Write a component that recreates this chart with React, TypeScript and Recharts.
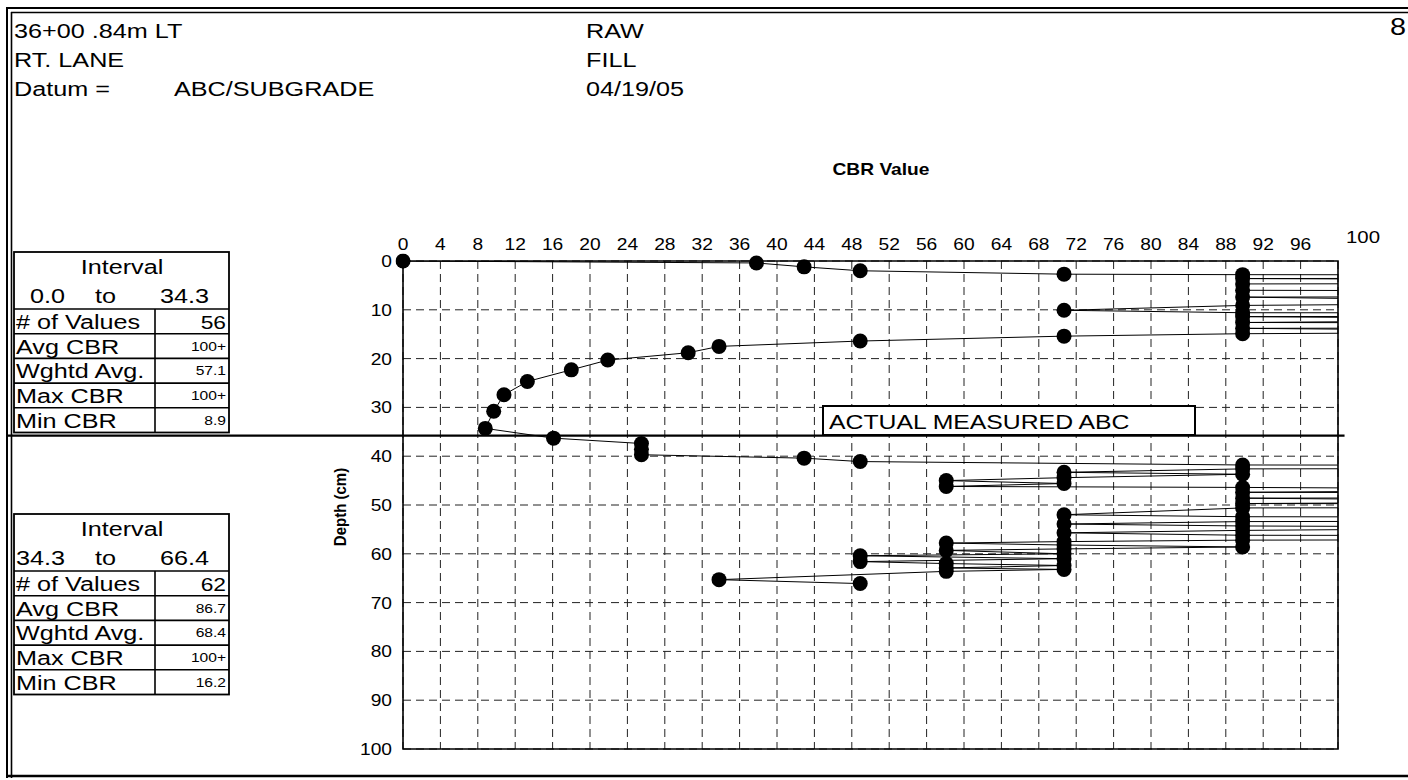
import React from "react";
import {
  ComposedChart,
  Line,
  XAxis,
  YAxis,
  CartesianGrid,
  ReferenceLine,
  ReferenceArea,
} from "recharts";

const FONT = "'Liberation Sans', Arial, Helvetica, sans-serif";
// the scan is a little wider than it is tall, so text is stretched sideways
const SX = 1.2;

// interval 0.0 - 34.3 (values over 100 run off the right edge)
const cbrTop = [
  0, 37.8, 42.9, 48.9, 70.7, 89.8, 292, 89.8, 134, 292, 89.8, 89.8, 292, 89.8,
  134, 89.8, 70.7, 89.8, 292, 89.8, 134, 89.8, 292, 89.8, 134, 89.8, 70.7,
  48.9, 33.8, 30.5, 21.9, 18.0, 13.3, 10.8, 9.7, 8.8,
];
const depthTop = [
  0, 0.4, 1.2, 2.0, 2.7, 2.8, 3.1, 3.6, 3.9, 4.2, 4.7, 6.0, 6.8, 7.4, 8.5, 9.1,
  10.1, 10.6, 10.8, 11.4, 12.0, 12.6, 13.2, 13.8, 14.5, 14.9, 15.4, 16.4, 17.5,
  18.8, 20.3, 22.3, 24.7, 27.4, 30.8, 34.3,
];

// interval 34.3 - 66.4
const cbrBottom = [
  16.1, 25.5, 25.5, 25.5, 42.9, 48.9, 89.8, 292, 89.8, 70.7, 89.8, 70.7, 58.1,
  70.7, 58.1, 89.8, 134, 89.8, 292, 89.8, 134, 89.8, 292, 89.8, 70.7, 89.8,
  292, 89.8, 70.7, 89.8, 134, 89.8, 70.7, 89.8, 292, 89.8, 70.7, 58.1, 70.7,
  89.8, 70.7, 58.1, 70.7, 48.9, 70.7, 48.9, 58.1, 70.7, 58.1, 70.7, 58.1, 33.8,
  48.9,
];
const depthBottom = [
  36.3, 37.4, 38.6, 39.7, 40.4, 41.1, 41.8, 42.1, 42.6, 43.3, 43.7, 44.4, 45.0,
  45.6, 46.2, 46.4, 46.8, 47.4, 48.0, 48.6, 49.3, 49.7, 50.1, 50.6, 52.0, 52.4,
  52.9, 53.4, 53.9, 54.3, 54.6, 55.2, 55.7, 56.2, 56.6, 57.2, 57.5, 57.8, 58.2,
  58.6, 59.0, 59.3, 60.0, 60.4, 61.0, 61.6, 62.0, 62.4, 62.9, 63.2, 63.6, 65.3,
  66.1,
];

const cbrTicks = [
  0, 4, 8, 12, 16, 20, 24, 28, 32, 36, 40, 44, 48, 52, 56, 60, 64, 68, 72, 76,
  80, 84, 88, 92, 96, 100,
];
const depthTicks = [0, 10, 20, 30, 40, 50, 60, 70, 80, 90, 100];
const abcDepth = 35.8;

const statLabels = ["# of Values", "Avg CBR", "Wghtd Avg.", "Max CBR", "Min CBR"];
const statsTop = ["56", "100+", "57.1", "100+", "8.9"];
const statsBottom = ["62", "86.7", "68.4", "100+", "16.2"];

const points = [
  ...cbrTop.map((c, i) => ({ cbr: c, depth: depthTop[i] })),
  ...cbrBottom.map((c, i) => ({ cbr: c, depth: depthBottom[i] })),
];

function T({ x, y, size = 21, bold = false, anchor = "start", sx = SX, children }: any) {
  return (
    <text
      transform={`translate(${x},${y}) scale(${sx},1)`}
      textAnchor={anchor}
      fontSize={size}
      fontWeight={bold ? 700 : 400}
      fontFamily={FONT}
      fill="#000"
    >
      {children}
    </text>
  );
}

const CbrTick = (props: any) => {
  const { x, y, payload } = props;
  const last = payload.value === 100;
  return (
    <text
      transform={`translate(${x + (last ? 25 : 0)},${y - (last ? 18 : 11)}) scale(${SX},1)`}
      textAnchor="middle"
      fontSize={last ? 17 : 16}
      fontFamily={FONT}
      fill="#000"
    >
      {payload.value}
    </text>
  );
};

const DepthTick = (props: any) => {
  const { x, y, payload } = props;
  return (
    <text
      transform={`translate(${x - 11},${y + 6}) scale(${SX},1)`}
      textAnchor="end"
      fontSize={16}
      fontFamily={FONT}
      fill="#000"
    >
      {payload.value}
    </text>
  );
};

function StatsTable({ top, from, to, fromX, values }: any) {
  const headBottom = top + 57;
  const rowH = 24.7;
  const bottom = headBottom + rowH * statLabels.length;
  return (
    <g>
      <rect x={14} y={top} width={215} height={bottom - top} fill="#fff" stroke="#000" strokeWidth={1.8} />
      {statLabels.map((_, i) => (
        <line key={i} x1={14} x2={229} y1={headBottom + rowH * i} y2={headBottom + rowH * i} stroke="#000" strokeWidth={1.6} />
      ))}
      <line x1={155} x2={155} y1={headBottom} y2={bottom} stroke="#000" strokeWidth={1.6} />
      <T x={122} y={top + 22} anchor="middle">Interval</T>
      <T x={fromX} y={top + 51}>{from}</T>
      <T x={95} y={top + 51}>to</T>
      <T x={160} y={top + 51}>{to}</T>
      {statLabels.map((s, i) => (
        <T key={s} x={16} y={headBottom + rowH * i + 20}>{s}</T>
      ))}
      {values.map((v: string, i: number) => (
        <T key={i} x={226} y={headBottom + rowH * i + (i === 0 ? 20 : 17)} size={i === 0 ? 19 : 13} anchor="end">
          {v}
        </T>
      ))}
    </g>
  );
}

export default function App() {
  return (
    <div style={{ position: "absolute", left: 0, top: 0, width: 1408, height: 780, background: "#fff", overflow: "hidden" }}>
      <div style={{ position: "absolute", left: 0, top: 0 }}>
        <ComposedChart width={1408} height={780} data={points} margin={{ top: 0, right: 70, bottom: 31, left: 0 }}>
          <CartesianGrid stroke="#222" strokeWidth={1} strokeDasharray="8 5" />
          <XAxis
            type="number"
            dataKey="cbr"
            orientation="top"
            domain={[0, 100]}
            ticks={cbrTicks}
            interval={0}
            allowDataOverflow
            height={261}
            axisLine={false}
            tickLine={false}
            tickSize={0}
            tickMargin={0}
            tick={CbrTick}
          />
          <YAxis
            type="number"
            dataKey="depth"
            domain={[0, 100]}
            ticks={depthTicks}
            interval={0}
            reversed
            allowDataOverflow
            width={403}
            axisLine={false}
            tickLine={false}
            tickSize={0}
            tickMargin={0}
            tick={DepthTick}
          />
          <ReferenceArea x1={0} x2={100} y1={0} y2={100} fill="none" stroke="#000" strokeWidth={1.6} ifOverflow="visible" />
          <ReferenceLine
            segment={[
              { x: -42.3, y: abcDepth },
              { x: 100.7, y: abcDepth },
            ]}
            stroke="#000"
            strokeWidth={2.2}
            ifOverflow="visible"
          />
          <Line
            type="linear"
            dataKey="depth"
            stroke="#000"
            strokeWidth={1}
            dot={{ r: 7.5, fill: "#000", stroke: "#000", strokeWidth: 0, clipDot: false }}
            isAnimationActive={false}
          />
        </ComposedChart>
      </div>
      <svg width={1408} height={780} style={{ position: "absolute", left: 0, top: 0, pointerEvents: "none" }}>
        {/* page frame */}
        <line x1={6} x2={1408} y1={8} y2={8} stroke="#000" strokeWidth={2} />
        <line x1={11} x2={1408} y1={12.5} y2={12.5} stroke="#000" strokeWidth={1.4} />
        <line x1={7} x2={7} y1={7} y2={778} stroke="#000" strokeWidth={2} />
        <line x1={11.5} x2={11.5} y1={12} y2={778} stroke="#000" strokeWidth={1.6} />
        <line x1={6} x2={1408} y1={776} y2={776} stroke="#000" strokeWidth={2.5} />

        <T x={14} y={38}>36+00 .84m LT</T>
        <T x={14} y={67}>RT.  LANE</T>
        <T x={14} y={96}>Datum =</T>
        <T x={174} y={96}>ABC/SUBGRADE</T>
        <T x={586} y={38}>RAW</T>
        <T x={586} y={67}>FILL</T>
        <T x={586} y={96}>04/19/05</T>
        <T x={1390} y={35} size={24}>8</T>

        <T x={881} y={175} size={16} bold anchor="middle">CBR Value</T>
        <text
          transform="translate(346,507) rotate(-90) scale(1,1.15)"
          textAnchor="middle"
          fontSize={15}
          fontWeight={700}
          fontFamily={FONT}
          fill="#000"
        >
          Depth (cm)
        </text>

        <StatsTable top={252} from="0.0" to="34.3" fromX={30} values={statsTop} />
        <StatsTable top={514} from="34.3" to="66.4" fromX={16} values={statsBottom} />

        <rect x={823} y={406} width={372} height={29} fill="#fff" stroke="#000" strokeWidth={2} />
        <T x={829} y={429} sx={1.18}>ACTUAL MEASURED ABC</T>
      </svg>
    </div>
  );
}
